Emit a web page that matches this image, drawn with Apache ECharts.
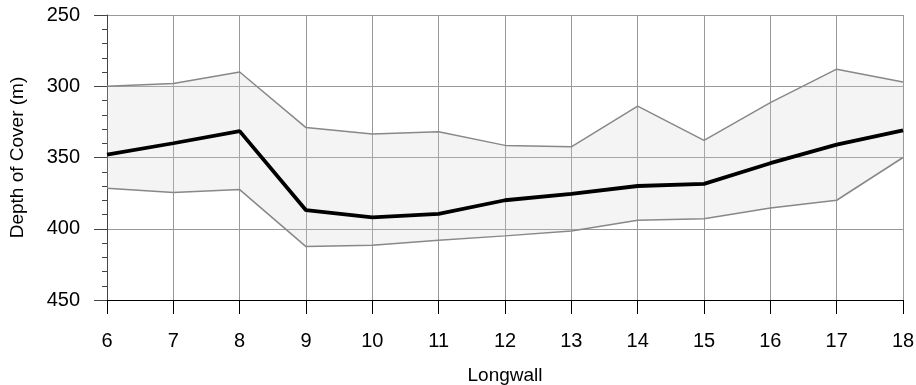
<!DOCTYPE html>
<html>
<head>
<meta charset="utf-8">
<script src="https://cdn.jsdelivr.net/npm/echarts@6/dist/echarts.min.js"></script>
<style>
  html, body { margin: 0; padding: 0; background: #fff; }
  #chart { width: 916px; height: 385px; }
</style>
</head>
<body>
<div id="chart"></div>
<script>
// longwall numbers along the x axis
var longwalls = ["6", "7", "8", "9", "10", "11", "12", "13", "14", "15", "16", "17", "18"];
// shallowest, average and deepest cover (m)
var minDepth = [300, 298, 290, 329, 333.5, 332, 341.5, 342.5, 314, 338, 311.5, 288, 297];
var avgDepth = [348, 340, 331.5, 387, 392, 389.5, 380, 375.5, 370, 368.5, 354, 341, 331];
var maxDepth = [371.5, 374.5, 372.5, 412.5, 411.5, 408, 405, 401.5, 394, 393, 385.5, 380, 350];
var yTicks = [250, 300, 350, 400, 450];

// band height on top of the min line (for the shaded range)
var band = maxDepth.map(function (v, i) { return v - minDepth[i]; });

var font = "'Liberation Sans', Arial, sans-serif";
var chart = echarts.init(document.getElementById("chart"));

var option = {
  animation: false,
  grid: { left: 107, right: 13, top: 15, bottom: 85, outerBoundsMode: "none", containLabel: false },
  xAxis: {
    type: "category",
    data: longwalls,
    boundaryGap: false,
    name: "Longwall",
    nameLocation: "middle",
    nameGap: 66,
    nameTextStyle: { color: "#000", fontSize: 19, fontFamily: font },
    axisLine: { onZero: false, lineStyle: { color: "#000", width: 1 } },
    axisTick: { length: 14, lineStyle: { color: "#000" } },
    axisLabel: { color: "#000", fontSize: 20, fontFamily: font, margin: 31 },
    splitLine: { show: true, lineStyle: { color: "#999", width: 1 } }
  },
  yAxis: {
    type: "value",
    inverse: true,
    min: yTicks[0],
    max: yTicks[yTicks.length - 1],
    interval: 50,
    name: "Depth of Cover (m)",
    nameLocation: "middle",
    nameGap: 80,
    nameTextStyle: { color: "#000", fontSize: 19, fontFamily: font },
    axisLine: { show: true, lineStyle: { color: "#444", width: 1 } },
    axisTick: { show: true, length: 13, lineStyle: { color: "#444" } },
    minorTick: { show: true, splitNumber: 5, length: 5, lineStyle: { color: "#444" } },
    axisLabel: { color: "#000", fontSize: 20, fontFamily: font, margin: 27 },
    splitLine: { show: true, lineStyle: { color: "#999", width: 1 } }
  },
  series: [
    {
      name: "min",
      type: "line",
      data: minDepth,
      stack: "range",
      symbol: "none",
      lineStyle: { color: "#888", width: 1.5 },
      z: 3
    },
    {
      name: "range",
      type: "line",
      data: band,
      stack: "range",
      symbol: "none",
      lineStyle: { color: "#888", width: 1.5 },
      areaStyle: { color: "rgba(210,210,210,0.35)" },
      z: 3
    },
    {
      name: "average",
      type: "line",
      data: avgDepth,
      symbol: "none",
      lineStyle: { color: "#000", width: 3.8 },
      z: 4
    }
  ]
};

chart.setOption(option);
</script>
</body>
</html>
